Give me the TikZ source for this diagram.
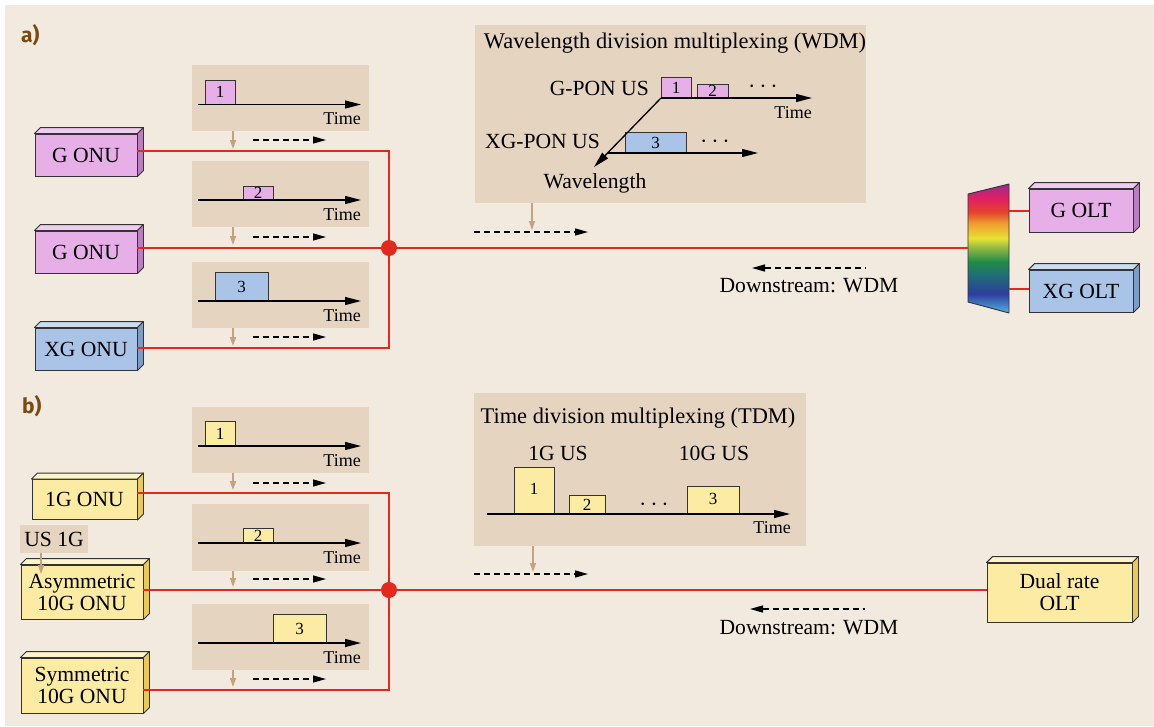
\documentclass[tikz,border=0pt]{standalone}
\usepackage{fontspec}
\setmainfont{Liberation Serif}
\newfontfamily\labelfont{Fira Sans}
\usetikzlibrary{arrows.meta}

\definecolor{bgcol}{HTML}{F3EADF}
\definecolor{panelcol}{HTML}{E5D4C0}
\definecolor{tancol}{HTML}{C6A27C}
\definecolor{fibre}{HTML}{E2291D}
\definecolor{brownlab}{HTML}{7B4A12}
\definecolor{edgecol}{HTML}{333333}
\definecolor{pinkF}{HTML}{E6AFE8}
\definecolor{pinkT}{HTML}{F0CCF1}
\definecolor{pinkS}{HTML}{B97FBF}
\definecolor{blueF}{HTML}{AAC4E8}
\definecolor{blueT}{HTML}{CCDCF1}
\definecolor{blueS}{HTML}{7E9CC6}
\definecolor{yelF}{HTML}{FCEBA2}
\definecolor{yelT}{HTML}{FDF4CC}
\definecolor{yelS}{HTML}{E8C95C}

\definecolor{rb0}{HTML}{55B2E2}
\definecolor{rb1}{HTML}{2D3D9E}
\definecolor{rb2}{HTML}{1F6F73}
\definecolor{rb3}{HTML}{218C48}
\definecolor{rb4}{HTML}{A0C040}
\definecolor{rb5}{HTML}{E8E234}
\definecolor{rb6}{HTML}{EE9A30}
\definecolor{rb7}{HTML}{E4452A}
\definecolor{rb8}{HTML}{E4205E}
\definecolor{rb9}{HTML}{A02890}
% TikZ maps the filled area onto the middle 25bp..75bp of a shading
\pgfdeclareverticalshading{spectrum}{100bp}{%
  color(0bp)=(rb0); color(25bp)=(rb0); color(32.5bp)=(rb1); color(40bp)=(rb2);
  color(45bp)=(rb3); color(51bp)=(rb4); color(54bp)=(rb5); color(60bp)=(rb6);
  color(64bp)=(rb7); color(69bp)=(rb8); color(75bp)=(rb9); color(100bp)=(rb9)}

% top and right faces of a box node, giving it depth
\newcommand\boxfaces[3]{%
  \filldraw[fill=#2,draw=edgecol,line width=0.9pt,line join=round]
    (#1.north west) -- ++(6,-6) -- ([shift={(6,-6)}]#1.north east) -- (#1.north east) -- cycle;
  \filldraw[fill=#3,draw=edgecol,line width=0.9pt,line join=round]
    (#1.north east) -- ++(6,-6) -- ([shift={(6,-6)}]#1.south east) -- (#1.south east) -- cycle;}

\tikzset{
  txt/.style={font=\fontsize{21.6}{22}\selectfont, inner sep=0pt},
  title/.style={font=\fontsize{22.4}{24}\selectfont, inner sep=0pt},
  small/.style={font=\fontsize{18}{20}\selectfont, inner sep=0pt},
  num/.style={font=\fontsize{17}{18}\selectfont, inner sep=0pt},
  dots/.style={font=\fontsize{25}{26}\selectfont, inner sep=0pt},
  unit/.style={draw=edgecol, line width=0.9pt, inner sep=0pt, align=center,
     font=\fontsize{21.6}{22}\selectfont},
  panel/.style={fill=panelcol, draw=none, inner sep=0pt},
  packet/.style={draw=edgecol, line width=0.9pt},
  axis/.style={line width=1.3pt, -{Triangle[length=16pt,width=8pt]}},
  upflow/.style={line width=1.3pt, dash pattern=on 6pt off 4pt, -{Triangle[length=13pt,width=7pt]}},
  downflow/.style={line width=1.3pt, dash pattern=on 6pt off 4pt, {Triangle[length=13pt,width=7pt]}-},
  tanarrow/.style={draw=tancol, line width=1.4pt, -{Triangle[length=9pt,width=6pt]}},
  fibreline/.style={draw=fibre, line width=2.2pt},
  junction/.style={circle, fill=fibre, minimum size=16pt, inner sep=0pt},
  partlabel/.style={font=\labelfont\bfseries\fontsize{21}{22}\selectfont, text=brownlab, inner sep=0pt}
}

\begin{document}
\begin{tikzpicture}[x=1pt, y=-1pt]
\useasboundingbox (0,0) rectangle (1154,726);
\fill[white] (0,0) rectangle (1154,726);
\fill[bgcol] (5,5) rectangle (1154,726);

% ================= part a): wavelength division multiplexing =================
\node[partlabel, anchor=base west] (la) at (21,42) {a)};

% per-ONU burst panels
\node[panel, minimum width=177pt, minimum height=66pt, anchor=north west] (pa1) at (192,65) {};
\node[panel, minimum width=177pt, minimum height=66pt, anchor=north west] (pa2) at (192,161) {};
\node[panel, minimum width=177pt, minimum height=66pt, anchor=north west] (pa3) at (192,262) {};

\draw[packet, fill=pinkF] (205,80) rectangle (235,104.5);
\node[num] (na1) at (220,92) {1};
\draw[axis] (198,104.5) -- (361,104.5);
\node[small, anchor=east] (ta1) at (361,119) {Time};

\draw[packet, fill=pinkF] (243,186) rectangle (273,200);
\node[num] (na2) at (258,193) {2};
\draw[axis] (198,200) -- (361,200);
\node[small, anchor=east] (ta2) at (361,214.5) {Time};

\draw[packet, fill=blueF] (215,272) rectangle (268,301);
\node[num] (na3) at (241.5,286.5) {3};
\draw[axis] (198,301) -- (361,301);
\node[small, anchor=east] (ta3) at (361,315.5) {Time};

% ONUs
\node[unit, fill=pinkF, minimum width=102pt, minimum height=42pt] (ga1) at (86,155) {G ONU};
\boxfaces{ga1}{pinkT}{pinkS}
\node[unit, fill=pinkF, minimum width=102pt, minimum height=42pt] (ga2) at (86,252) {G ONU};
\boxfaces{ga2}{pinkT}{pinkS}
\node[unit, fill=blueF, minimum width=102pt, minimum height=42pt] (xa) at (86,349) {XG ONU};
\boxfaces{xa}{blueT}{blueS}

% fibre tree
\node[junction] (ja) at (389,248) {};
\coordinate (ca1) at (389,151);
\coordinate (ca3) at (389,348);
\draw[fibreline] (ga1.east |- ca1) -- (ca1) -- (ja.center);
\draw[fibreline] (xa.east |- ca3) -- (ca3) -- (ja.center);
\draw[fibreline] (ga2.east |- ja) -- (ja.center);

% upstream markers under the panels
\draw[tanarrow] (233,131) -- (233,149);
\draw[upflow] (253,140) -- (326,140);
\draw[tanarrow] (233,227) -- (233,245);
\draw[upflow] (253,237) -- (326,237);
\draw[tanarrow] (233,328) -- (233,346);
\draw[upflow] (253,337) -- (326,337);

% WDM summary panel
\node[panel, minimum width=391pt, minimum height=178pt, anchor=north west] (wdm) at (475,25) {};
\node[title, anchor=base] (wdmt) at (675,48) {Wavelength division multiplexing (WDM)};
\coordinate (go) at (661,98);
\draw[packet, fill=pinkF] (661,77) rectangle (691,98);
\node[num] (w1) at (676,87.5) {1};
\draw[packet, fill=pinkF] (697,84) rectangle (728,98);
\node[num] (w2) at (712.5,91) {2};
\draw[axis] (go) -- (812,98);
\node[dots] (wd1) at (763,87) {$\cdots$};
\node[small, anchor=east] (wt) at (812,112.5) {Time};
\node[txt, anchor=base east] (gpon) at (649,95) {G-PON US};
\draw[packet, fill=blueF] (625,132) rectangle (686,153);
\node[num] (w3) at (655.5,142.5) {3};
\draw[axis] (608,153) -- (758,153);
\node[dots] (wd2) at (715,142) {$\cdots$};
\node[txt, anchor=base west] (xgpon) at (485,148) {XG-PON US};
\coordinate (wl) at (594,167);
\draw[axis] (go) -- (wl);
\node[txt, anchor=base] (wlen) at (595,188) {Wavelength};

\draw[tanarrow] (532,203) -- (532,230);
\draw[upflow] (474,232) -- (588,232);

% wavelength multiplexer and OLTs
\coordinate (mx1) at (968,194);
\coordinate (mx2) at (1009,184);
\coordinate (mx3) at (1009,313);
\coordinate (mx4) at (968,302);
\begin{scope}
  \clip (mx1) -- (mx2) -- (mx3) -- (mx4) -- cycle;
  \shade[shading=spectrum] (968,184) rectangle (1009,313);
\end{scope}
\draw[edgecol, line width=0.9pt, line join=round] (mx1) -- (mx2) -- (mx3) -- (mx4) -- cycle;

\node[unit, fill=pinkF, minimum width=104pt, minimum height=43pt] (golt) at (1081,210.5) {G OLT};
\boxfaces{golt}{pinkT}{pinkS}
\node[unit, fill=blueF, minimum width=104pt, minimum height=42pt] (xolt) at (1081,291) {XG OLT};
\boxfaces{xolt}{blueT}{blueS}

\draw[fibreline] (ja.center) -- (968,248);
\draw[fibreline] (1009,211) -- (golt.west |- 1009,211);
\draw[fibreline] (1009,289) -- (xolt.west |- 1009,289);

\draw[downflow] (752,268) -- (866,268);
\node[txt, anchor=base] (dsa) at (809,292) {Downstream: WDM};

% ================= part b): time division multiplexing =================
\node[partlabel, anchor=base west] (lb) at (22,413) {b)};

\node[panel, minimum width=177pt, minimum height=66pt, anchor=north west] (pb1) at (192,407) {};
\node[panel, minimum width=177pt, minimum height=67pt, anchor=north west] (pb2) at (192,504) {};
\node[panel, minimum width=177pt, minimum height=66pt, anchor=north west] (pb3) at (192,604) {};

\draw[packet, fill=yelF] (205,421) rectangle (235,446);
\node[num] (nb1) at (220,433.5) {1};
\draw[axis] (198,446) -- (361,446);
\node[small, anchor=east] (tb1) at (361,460.5) {Time};

\draw[packet, fill=yelF] (243,528) rectangle (273,543);
\node[num] (nb2) at (258,535.5) {2};
\draw[axis] (198,543) -- (361,543);
\node[small, anchor=east] (tb2) at (361,557.5) {Time};

\draw[packet, fill=yelF] (273,614) rectangle (326,643);
\node[num] (nb3) at (299.5,628.5) {3};
\draw[axis] (198,643) -- (361,643);
\node[small, anchor=east] (tb3) at (361,657.5) {Time};

% ONUs
\node[unit, fill=yelF, minimum width=105pt, minimum height=40pt] (o1g) at (84.5,499.5) {1G ONU};
\boxfaces{o1g}{yelT}{yelS}
\node[unit, fill=yelF, minimum width=122pt, minimum height=54pt] (oas) at (82,592) {Asymmetric\\10G ONU};
\boxfaces{oas}{yelT}{yelS}
\node[unit, fill=yelF, minimum width=122pt, minimum height=55pt] (osy) at (82,685.5) {Symmetric\\10G ONU};
\boxfaces{osy}{yelT}{yelS}

\node[panel, txt, minimum width=68pt, minimum height=28pt] (us1g) at (54,539) {US 1G};
\draw[tanarrow] (41,553) -- (41,574);

% fibre tree
\node[junction] (jb) at (389,590) {};
\coordinate (cb1) at (389,493);
\coordinate (cb3) at (389,690);
\draw[fibreline] (o1g.east |- cb1) -- (cb1) -- (jb.center);
\draw[fibreline] (osy.east |- cb3) -- (cb3) -- (jb.center);
\draw[fibreline] (oas.east |- jb) -- (jb.center);

\draw[tanarrow] (233,473) -- (233,490);
\draw[upflow] (253,483) -- (326,483);
\draw[tanarrow] (233,571) -- (233,587);
\draw[upflow] (253,579) -- (326,579);
\draw[tanarrow] (233,670) -- (233,687);
\draw[upflow] (253,679) -- (326,679);

% TDM summary panel
\node[panel, minimum width=332pt, minimum height=153pt, anchor=north west] (tdm) at (474,393) {};
\node[title, anchor=base] (tdmt) at (638,423) {Time division multiplexing (TDM)};
\node[txt, anchor=base] (us1) at (558,460) {1G US};
\node[txt, anchor=base] (us10) at (714,460) {10G US};
\draw[packet, fill=yelF] (514,467) rectangle (554,514);
\node[num] (t1) at (534,489) {1};
\draw[packet, fill=yelF] (569,495) rectangle (605,514);
\node[num] (t2) at (587,505) {2};
\draw[packet, fill=yelF] (687,486) rectangle (739,514);
\node[num] (t3) at (713,499) {3};
\draw[axis] (487,514) -- (790,514);
\node[dots] (td) at (654,505) {$\cdots$};
\node[small, anchor=east] (tt) at (791,527.5) {Time};

\draw[tanarrow] (533,546) -- (533,572);
\draw[upflow] (474,574) -- (588,574);

% OLT
\node[unit, fill=yelF, minimum width=145pt, minimum height=59pt] (dolt) at (1059.5,592.5) {Dual rate\\OLT};
\boxfaces{dolt}{yelT}{yelS}
\draw[fibreline] (jb.center) -- (dolt.west |- jb);

\draw[downflow] (750,609) -- (865,609);
\node[txt, anchor=base] (dsb) at (809,634) {Downstream: WDM};
\end{tikzpicture}
\end{document}
